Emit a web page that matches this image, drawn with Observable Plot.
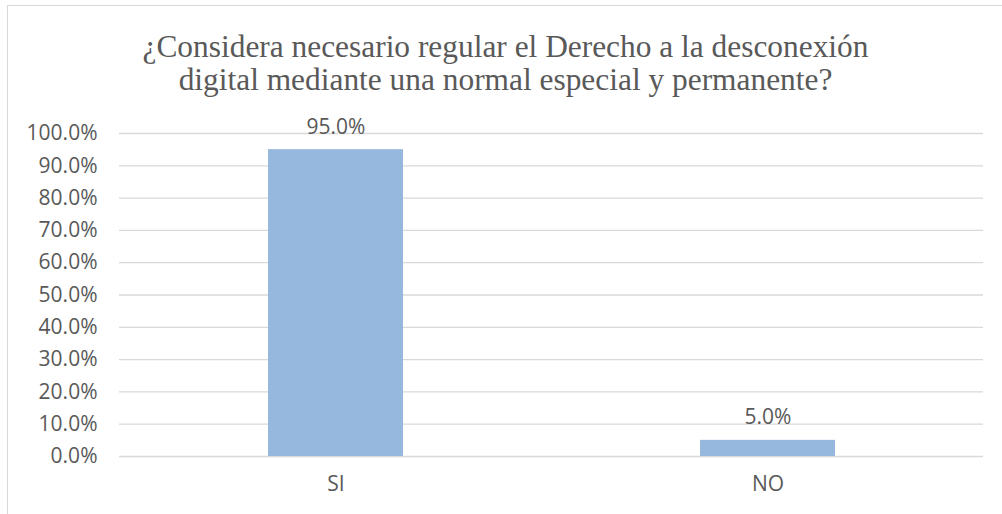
<!DOCTYPE html>
<html>
<head>
<meta charset="utf-8">
<script src="https://cdn.jsdelivr.net/npm/d3@7"></script>
<script src="https://cdn.jsdelivr.net/npm/@observablehq/plot@0.6"></script>
<style>
  html, body { margin: 0; padding: 0; background: #fff; }
  body { width: 1002px; height: 514px; overflow: hidden; position: relative; }
  #frame { position: absolute; left: 7px; top: 5px; width: 1100px; height: 600px; border: 1px solid #d9d9d9; box-sizing: border-box; }
  #title { position: absolute; left: 5px; width: 1001px; top: 30px; text-align: center;
           font-family: "Liberation Serif", "Times New Roman", serif; font-size: 31.4px; line-height: 33px; color: #595959; }
  #chart { position: absolute; left: 0; top: 100px; }
</style>
</head>
<body>
<div id="frame"></div>
<div id="title">¿Considera necesario regular el Derecho a la desconexión<br>digital mediante una normal especial y permanente?</div>
<div id="chart"></div>
<script>
const categories = ["SI", "NO"];
const values = [0.95, 0.05];
const yTicks = [0, 0.1, 0.2, 0.3, 0.4, 0.5, 0.6, 0.7, 0.8, 0.9, 1.0];

const data = categories.map((c, i) => ({category: c, value: values[i]}));
const fmt = d3.format(".1%");

const chart = Plot.plot({
  width: 1002,
  height: 414,
  marginLeft: 119,
  marginRight: 19,
  marginTop: 33,
  marginBottom: 58,
  style: {fontFamily: "'Open Sans', sans-serif", fontSize: "21px", color: "#595959", background: "transparent"},
  x: {domain: categories, paddingInner: 0.6875, paddingOuter: 0.34375, label: null},
  y: {domain: [0, 1], label: null},
  marks: [
    Plot.ruleY(yTicks, {stroke: "#d9d9d9", strokeWidth: 1.3}),
    Plot.barY(data, {x: "category", y: "value", fill: "#96b8df"}),
    Plot.text(data, {x: "category", y: "value", text: d => fmt(d.value), lineAnchor: "bottom", dy: -16, fontSize: 21, fill: "#595959"}),
    Plot.axisY({ticks: yTicks, tickFormat: fmt, tickSize: 0, tickPadding: 22, fontSize: 21, fill: "#595959", label: null}),
    Plot.axisX({tickSize: 0, tickPadding: 20, fontSize: 21, fill: "#595959", label: null})
  ]
});
document.getElementById("chart").appendChild(chart);
</script>
</body>
</html>
